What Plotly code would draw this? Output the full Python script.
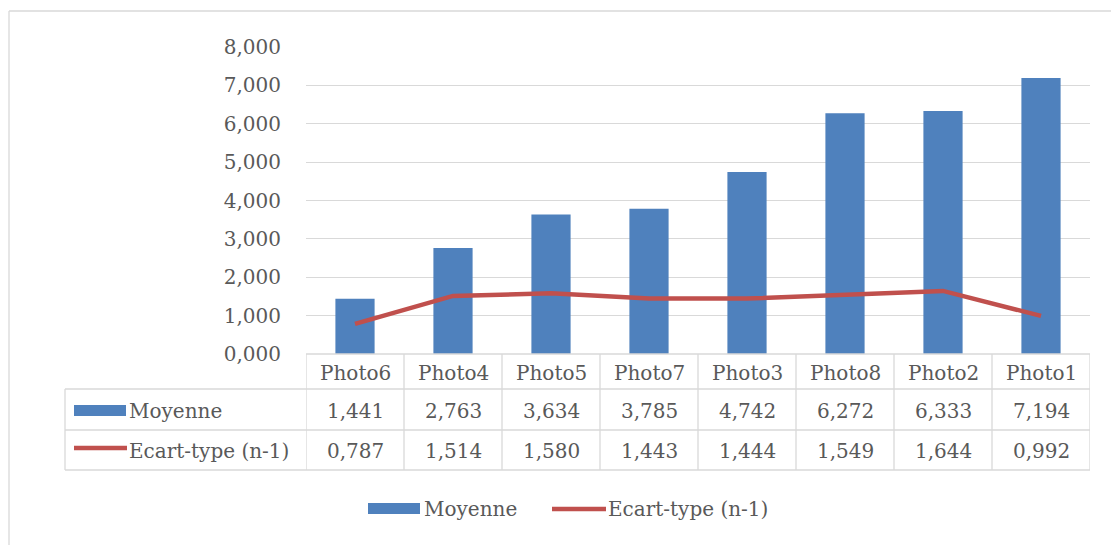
import plotly.graph_objects as go

# Data
categories = ["Photo6", "Photo4", "Photo5", "Photo7", "Photo3", "Photo8", "Photo2", "Photo1"]
moyenne = [1.441, 2.763, 3.634, 3.785, 4.742, 6.272, 6.333, 7.194]
ecart_type = [0.787, 1.514, 1.580, 1.443, 1.444, 1.549, 1.644, 0.992]
series_names = ["Moyenne", "Ecart-type (n-1)"]
y_ticks = [0, 1, 2, 3, 4, 5, 6, 7, 8]

BLUE = "#4F81BD"
RED = "#C0504D"
GRID = "#D9D9D9"
TEXT = "#595959"
FONT = "DejaVu Serif"
FS = 20

W, H = 1111, 545
# plot area in pixels
PL, PR, PT, PB = 306, 1090, 47, 354


def px(x):
    return (x - PL) / (PR - PL)


def py(y):
    return (PB - y) / (PB - PT)


def fmt(v):
    return f"{v:.3f}".replace(".", ",")


def label(x, xref, y, text, xanchor="center"):
    return dict(x=x, xref=xref, y=y, yref="paper", text=text, showarrow=False,
                xanchor=xanchor, yanchor="middle",
                font=dict(family=FONT, size=FS, color=TEXT))


fig = go.Figure()
fig.add_trace(go.Bar(x=categories, y=moyenne, name=series_names[0],
                     marker=dict(color=BLUE, line=dict(width=0)), width=0.4))
fig.add_trace(go.Scatter(x=categories, y=ecart_type, name=series_names[1], mode="lines",
                         line=dict(color=RED, width=4.5)))

shapes = []
annotations = []

# data table rows (pixel y of row borders)
row_top, row_cat, row_moy, row_ect = 354, 389, 430, 470
tbl_left = 65

# horizontal rules
shapes.append(dict(type="line", xref="x", yref="paper", x0=-0.5, x1=len(categories) - 0.5,
                   y0=py(row_top), y1=py(row_top), line=dict(color=GRID, width=1.3)))
for r in (row_cat, row_moy, row_ect):
    shapes.append(dict(type="line", xref="paper", yref="paper", x0=px(tbl_left), x1=1,
                       y0=py(r), y1=py(r), line=dict(color=GRID, width=1.3)))
# vertical rules
for i in range(len(categories) + 1):
    shapes.append(dict(type="line", xref="x", yref="paper", x0=i - 0.5, x1=i - 0.5,
                       y0=py(row_top), y1=py(row_ect), line=dict(color=GRID, width=1.3)))
shapes.append(dict(type="line", xref="paper", yref="paper", x0=px(tbl_left), x1=px(tbl_left),
                   y0=py(row_cat), y1=py(row_ect), line=dict(color=GRID, width=1.3)))

# outer chart frame
shapes.append(dict(type="line", xref="paper", yref="paper", x0=px(9), x1=px(9),
                   y0=py(11), y1=py(H + 5), line=dict(color=GRID, width=1.3)))
shapes.append(dict(type="line", xref="paper", yref="paper", x0=px(9), x1=px(W + 5),
                   y0=py(11), y1=py(11), line=dict(color=GRID, width=1.3)))

# table cells
yc_cat = py((row_top + row_cat) / 2 + 1)
yc_moy = py((row_cat + row_moy) / 2 + 1)
yc_ect = py((row_moy + row_ect) / 2 + 1)
for c, m, e in zip(categories, moyenne, ecart_type):
    annotations.append(label(c, "x", yc_cat, c))
    annotations.append(label(c, "x", yc_moy, fmt(m)))
    annotations.append(label(c, "x", yc_ect, fmt(e)))

# series keys inside the table
shapes.append(dict(type="rect", xref="paper", yref="paper", x0=px(74), x1=px(126),
                   y0=py(416), y1=py(405), fillcolor=BLUE, line=dict(width=0)))
shapes.append(dict(type="line", xref="paper", yref="paper", x0=px(74), x1=px(127),
                   y0=py(448), y1=py(448), line=dict(color=RED, width=4.5)))
annotations.append(label(px(127), "paper", yc_moy, series_names[0], "left"))
annotations.append(label(px(127), "paper", yc_ect, series_names[1], "left"))

# bottom legend
leg_y = 509
shapes.append(dict(type="rect", xref="paper", yref="paper", x0=px(368), x1=px(420),
                   y0=py(514), y1=py(503), fillcolor=BLUE, line=dict(width=0)))
shapes.append(dict(type="line", xref="paper", yref="paper", x0=px(552), x1=px(606),
                   y0=py(leg_y), y1=py(leg_y), line=dict(color=RED, width=4.5)))
annotations.append(label(px(422), "paper", py(leg_y), series_names[0], "left"))
annotations.append(label(px(606), "paper", py(leg_y), series_names[1], "left"))

fig.update_layout(
    width=W, height=H,
    margin=dict(l=PL, r=W - PR, t=PT, b=H - PB, pad=0),
    paper_bgcolor="white", plot_bgcolor="white",
    separators=", ",
    showlegend=False,
    shapes=shapes,
    annotations=annotations,
    font=dict(family=FONT, size=FS, color=TEXT),
    xaxis=dict(range=[-0.5, len(categories) - 0.5], showticklabels=False, showgrid=False,
               zeroline=False, showline=False, fixedrange=True),
    yaxis=dict(range=[0, 8], tickvals=y_ticks, tickformat=".3f", showgrid=True, gridcolor=GRID,
               gridwidth=1.3, zeroline=False, showline=False, ticks="outside", ticklen=20,
               tickcolor="rgba(0,0,0,0)", tickfont=dict(family=FONT, size=FS, color=TEXT),
               fixedrange=True),
)

fig.write_html("out.html")
